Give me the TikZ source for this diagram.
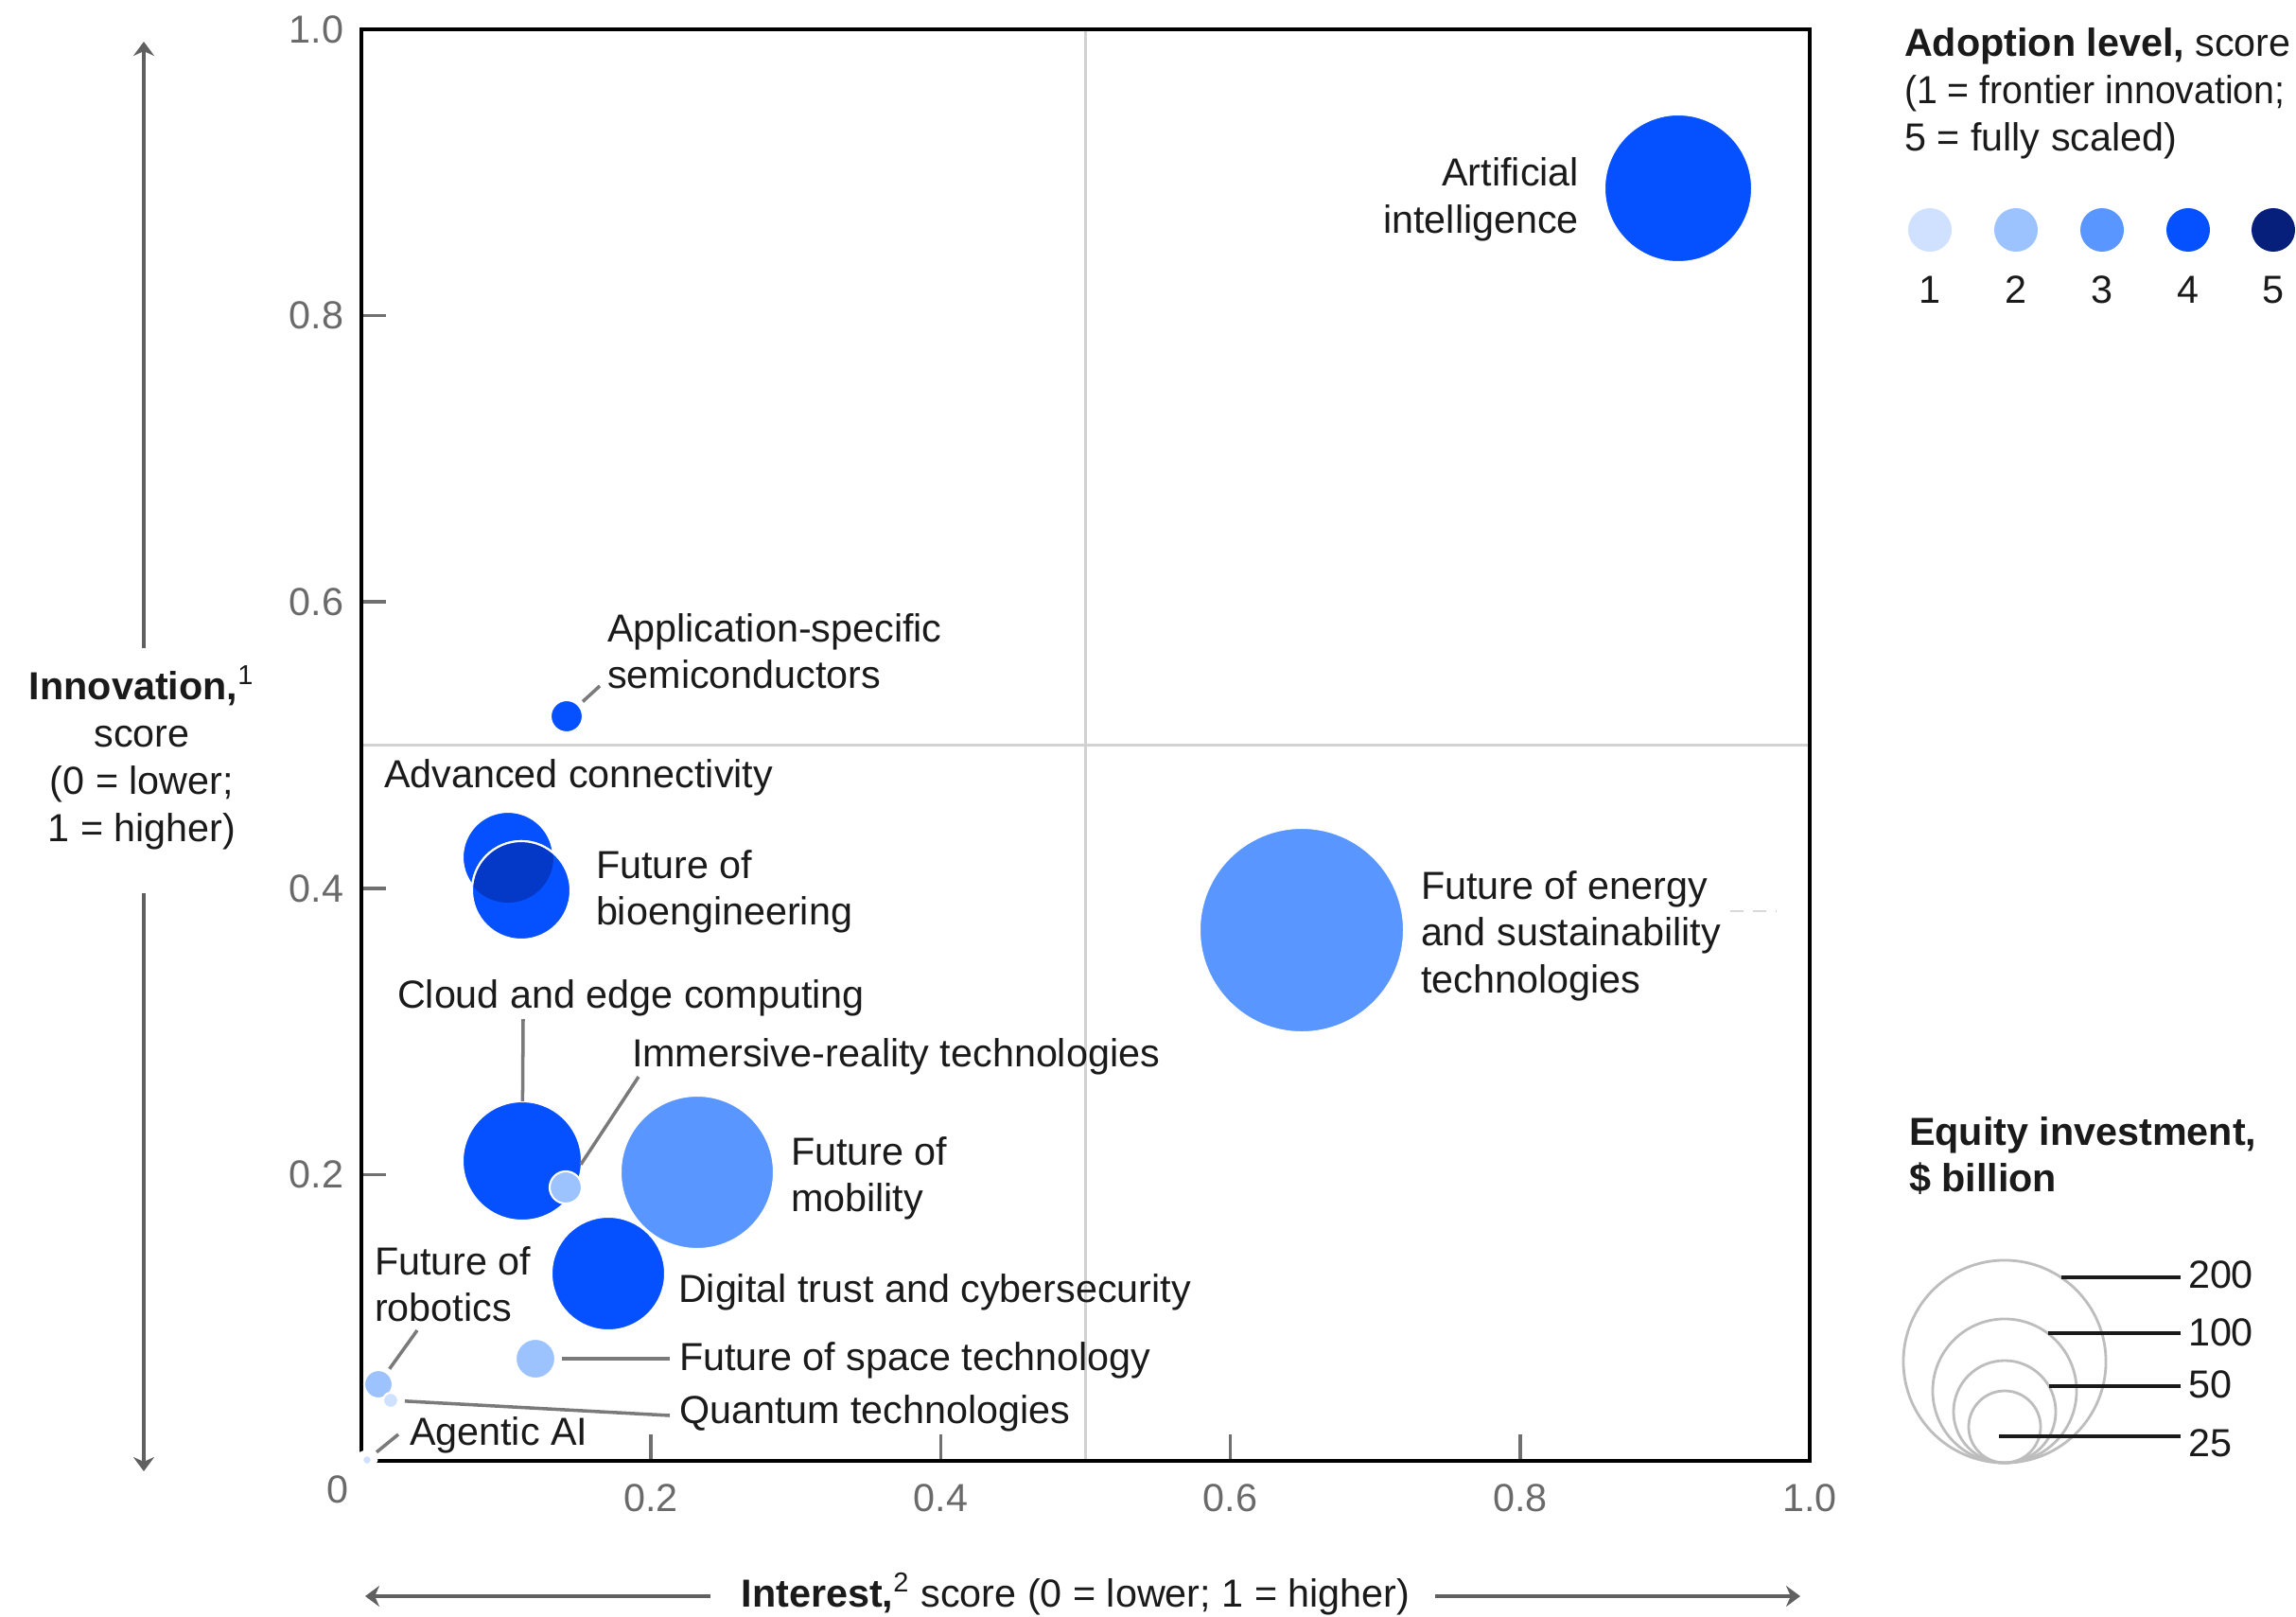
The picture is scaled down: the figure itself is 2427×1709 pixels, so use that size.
\documentclass[tikz,border=0pt]{standalone}
\usepackage{fontspec}
\setmainfont{Liberation Sans}
\usetikzlibrary{arrows.meta}
\definecolor{lvA}{HTML}{D0E0FF}
\definecolor{lvB}{HTML}{9DC3FF}
\definecolor{lvC}{HTML}{5A96FF}
\definecolor{lvD}{HTML}{0550FF}
\definecolor{lvE}{HTML}{061F7A}
\definecolor{ovl}{HTML}{0438C6}
\definecolor{txt}{HTML}{1A1A1A}
\definecolor{leadc}{HTML}{7A7A7A}
\definecolor{tickc}{HTML}{707070}
\definecolor{ticktxt}{HTML}{6A6A6A}
\definecolor{axc}{HTML}{606060}
\definecolor{legring}{HTML}{BDBDBD}
\definecolor{midc}{HTML}{D2D2D2}
\newcommand\lbf{\fontsize{11.75pt}{14.2pt}\selectfont}
\newcommand\fst{\rule{0pt}{0.75em}}
\begin{document}
\begin{tikzpicture}[x=0.01cm,y=-0.01cm,
  lbl/.style={inner sep=0pt, outer sep=0pt, font=\lbf, text=txt, align=left},
  lbl1/.style={inner sep=0pt, outer sep=0pt, font=\lbf, text=txt},
  ticklab/.style={inner sep=0pt, outer sep=0pt, font=\lbf, text=ticktxt},
  bub/.style={circle, inner sep=0pt, outer sep=0pt, draw=white, line width=0.6pt},
  leader/.style={draw=leadc, line width=1pt},
  tickline/.style={draw=tickc, line width=1pt},
  axarrow/.style={draw=axc, line width=1.1pt, -{Stealth[length=0.15cm,width=0.22cm]}},
  legc/.style={circle, inner sep=0pt, outer sep=0pt, draw=legring, line width=0.8pt},
  legline/.style={draw=txt, line width=1.1pt},
  midline/.style={draw=midc, line width=1pt}]
\useasboundingbox (0,0) rectangle (2427,1709);
\clip (0,0) rectangle (2427,1709);

% quadrant lines
\draw[midline] (1147.5,31) -- (1147.5,1544);
\draw[midline] (382,787.5) -- (1913,787.5);

% ticks
\foreach \v/\p in {0.2/1241.4,0.4/938.8,0.6/636.2,0.8/333.6}{
  \draw[tickline] (382,\p) -- (408,\p);
}
\foreach \v/\p in {0.2/688.2,0.4/994.4,0.6/1300.6,0.8/1606.8}{
  \draw[tickline] (\p,1544) -- (\p,1516);
}
\foreach \v/\p in {0.2/1241.4,0.4/938.8,0.6/636.2,0.8/333.6,1.0/31}{
  \node[ticklab, anchor=east] at (363,\p) {\v};
}
\foreach \v/\p in {0.2/688.2,0.4/994.4,0.6/1300.6,0.8/1606.8,1.0/1913}{
  \node[ticklab] at (\p,1583) {\v};
}
\node[ticklab] (zero) at (357,1574) {0};

% frame
\draw[line width=1.15pt, black] (382,31) rectangle (1913,1544);

% axis labels and arrows
\node[lbl, anchor=north, align=center] (lInn) at (150,704) {\fst\textbf{Innovation,}\textsuperscript{1}\\score\\(0 = lower;\\1 = higher)};
\coordinate (yA) at (152,685);
\coordinate (yT) at (152,44);
\coordinate (yB) at (152,944);
\coordinate (yE) at (152,1555);
\draw[axarrow] (yA) -- (yT);
\draw[axarrow] (yB) -- (yE);
\node[lbl1, anchor=base] (lInt) at (1137,1698) {\textbf{Interest,}\textsuperscript{2} score (0 = lower; 1 = higher)};
\coordinate (xA) at (751,1687);
\coordinate (xL) at (386,1687);
\coordinate (xB) at (1517,1687);
\coordinate (xR) at (1903,1687);
\draw[axarrow] (xA) -- (xL);
\draw[axarrow] (xB) -- (xR);

% bubbles
\node[bub, fill=lvC, minimum size=2.16cm] (bEn) at (1376,983) {};
\node[bub, fill=lvD, minimum size=1.56cm] (bAI) at (1774,199) {};
\node[bub, fill=lvD, minimum size=0.34cm] (bASS) at (599,757) {};
\node[bub, fill=lvD, minimum size=0.96cm] (bAC) at (537,906) {};
\node[bub, fill=lvD, minimum size=1.04cm] (bBio) at (551,941) {};
\begin{scope}
  \clip (bAC.center) circle[radius=0.48cm];
  \fill[ovl] (bBio.center) circle[radius=0.52cm];
  \draw[white, line width=0.6pt] (bBio.center) circle[radius=0.52cm];
\end{scope}
\node[bub, fill=lvC, minimum size=1.62cm] (bMo) at (737,1239) {};
\node[bub, fill=lvD, minimum size=1.26cm] (bCl) at (552,1227) {};
\node[bub, fill=lvD, minimum size=1.20cm] (bDi) at (643,1346) {};
\node[bub, fill=lvB, minimum size=0.34cm] (bIm) at (598,1255) {};
\node[bub, fill=lvB, minimum size=0.42cm] (bSp) at (566,1436) {};
\node[bub, fill=lvB, minimum size=0.30cm] (bRo) at (400,1463) {};
\node[bub, fill=lvA, minimum size=0.16cm] (bQu) at (413,1480) {};
\node[bub, fill=lvA, minimum size=0.10cm, preaction={draw=white, line width=0.12cm}] (bAg) at (388,1543) {};

% labels
\node[lbl, anchor=north east, align=right] (lAI) at (1669,166) {\fst Artificial\\intelligence};
\node[lbl, anchor=north west] (lASS) at (642,647) {\fst Application-specific\\semiconductors};
\node[lbl1, anchor=base west] (lAC) at (406,832) {Advanced connectivity};
\node[lbl, anchor=north west] (lBio) at (630,897) {\fst Future of\\bioengineering};
\node[lbl, anchor=north west] (lEn) at (1502,919) {\fst Future of energy\\and sustainability\\technologies};
\node[lbl1, anchor=base west] (lCl) at (420,1065) {Cloud and edge computing};
\node[lbl1, anchor=base west] (lIm) at (668,1127) {Immersive-reality technologies};
\node[lbl, anchor=north west] (lMo) at (836,1200) {\fst Future of\\mobility};
\node[lbl1, anchor=base west] (lDi) at (717,1376) {Digital trust and cybersecurity};
\node[lbl, anchor=north west] (lRo) at (396,1316) {\fst Future of\\robotics};
\node[lbl1, anchor=base west] (lSp) at (718,1448) {Future of space technology};
\node[lbl1, anchor=base west] (lQu) at (718,1504) {Quantum technologies};
\node[lbl1, anchor=base west] (lAg) at (433,1527) {Agentic AI};

% leaders
\coordinate (kASS) at (634,725);
\draw[leader, shorten <=0.06cm] (bASS) -- (kASS);
\coordinate (kCl) at (553,1077);
\draw[leader] (bCl) -- (kCl);
\coordinate (kIm) at (675,1138);
\draw[leader, shorten <=0.12cm] (bIm) -- (kIm);
\coordinate (kSp) at (708,1436);
\draw[leader, shorten <=0.07cm] (bSp) -- (kSp);
\coordinate (kRo) at (441,1406);
\draw[leader, shorten <=0.05cm] (bRo) -- (kRo);
\coordinate (kQu) at (708,1496);
\draw[leader, shorten <=0.07cm] (bQu) -- (kQu);
\coordinate (kAg) at (421,1516);
\draw[leader, shorten <=0.08cm] (bAg) -- (kAg);
\coordinate (kEn) at (1878,963);
\draw[draw=black!15, line width=0.8pt, dash pattern=on 0.14cm off 0.1cm, shorten <=0.1cm] (lEn.east |- kEn) -- (kEn);

% legend: adoption level
\node[lbl, anchor=north west] (lAd) at (2013,29) {\fst\textbf{Adoption level,} score\\\scalebox{0.95}[1]{(1 = frontier innovation;}\\5 = fully scaled)};
\foreach \i/\x/\c in {1/2040/lvA,2/2131/lvB,3/2222/lvC,4/2313/lvD,5/2403/lvE}{
  \node[circle, inner sep=0pt, fill=\c, minimum size=0.46cm] (ad\i) at (\x,243) {};
  \node[lbl1, anchor=base] (adn\i) at (\x,320) {\i};
}

% legend: equity investment
\node[lbl, anchor=north west] (lEq) at (2018,1179) {\fst\textbf{Equity investment,}\\\textbf{\$ billion}};
\node[legc, minimum size=2.14cm] (e200) at (2119,1439) {};
\node[legc, minimum size=1.52cm] (e100) at (2119,1470) {};
\node[legc, minimum size=1.08cm] (e50) at (2119,1492) {};
\node[legc, minimum size=0.76cm] (e25) at (2119,1508) {};
\node[lbl1, anchor=base west] (t200) at (2313,1361) {200};
\node[lbl1, anchor=base west] (t100) at (2313,1422) {100};
\node[lbl1, anchor=base west] (t50) at (2313,1477) {50};
\node[lbl1, anchor=base west] (t25) at (2313,1539) {25};
\draw[legline, shorten >=0.08cm] (e200.56) -- (e200.56 -| t200.west);
\draw[legline, shorten >=0.08cm] (e100.53) -- (e100.53 -| t100.west);
\draw[legline, shorten >=0.08cm] (e50.30) -- (e50.30 -| t50.west);
\coordinate (k25) at (2113,1518);
\draw[legline, shorten >=0.08cm] (k25) -- (k25 -| t25.west);
\end{tikzpicture}
\end{document}
